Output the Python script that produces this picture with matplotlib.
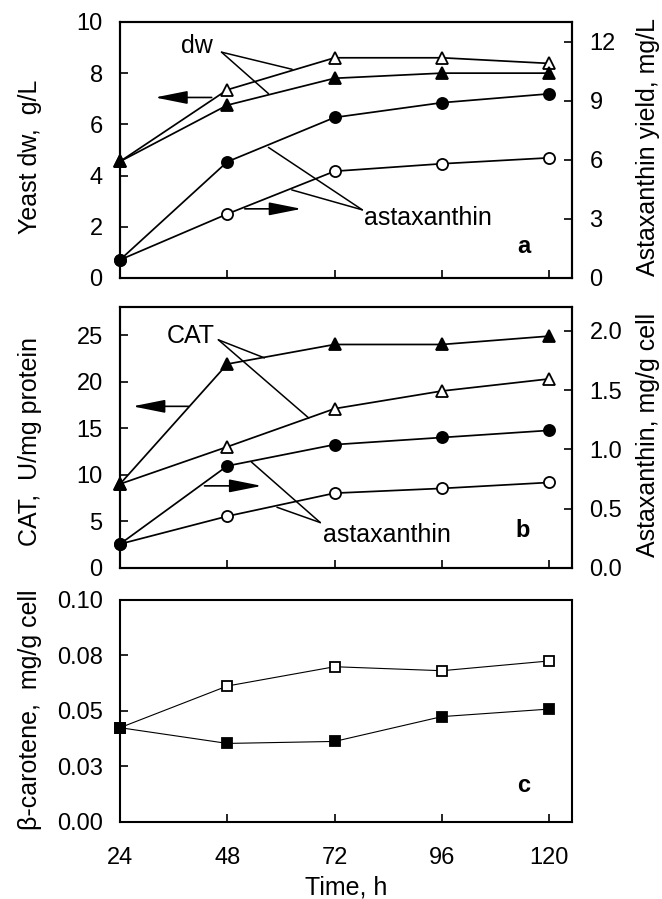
import matplotlib
matplotlib.use("Agg")
import matplotlib.pyplot as plt

plt.rcParams['font.family'] = ['Liberation Sans', 'DejaVu Sans']
plt.rcParams['font.size'] = 17
plt.rcParams['axes.labelsize'] = 18

time_h = [24, 48, 72, 96, 120]

# panel a: yeast dry weight (left) and astaxanthin yield (right)
dw_open = [4.55, 7.35, 8.6, 8.6, 8.38]
dw_filled = [4.55, 6.75, 7.8, 8.0, 8.0]
ast_yield_filled = [0.92, 5.9, 8.15, 8.9, 9.35]
ast_yield_open = [0.92, 3.25, 5.42, 5.8, 6.1]

# panel b: CAT activity (left) and astaxanthin content (right)
cat_filled = [9.0, 21.9, 24.0, 24.0, 24.9]
cat_open = [9.0, 13.0, 17.1, 19.0, 20.3]
ast_cell_filled = [0.2, 0.86, 1.04, 1.10, 1.16]
ast_cell_open = [0.2, 0.435, 0.63, 0.67, 0.72]

# panel c: beta-carotene
bcar_open = [0.0424, 0.0612, 0.0699, 0.0681, 0.0725]
bcar_filled = [0.0424, 0.0353, 0.0362, 0.0474, 0.0508]

c_ticks = [0.0, 0.025, 0.05, 0.075, 0.1]
c_ticklabels = ['0.00', '0.03', '0.05', '0.08', '0.10']

fig = plt.figure(figsize=(6.62, 8.99), dpi=100)
ax_a = fig.add_axes([0.1813, 0.6908, 0.6828, 0.2848])
ax_b = fig.add_axes([0.1813, 0.3685, 0.6828, 0.2897])
ax_c = fig.add_axes([0.1813, 0.0860, 0.6828, 0.2466])
ax_a2 = ax_a.twinx()
ax_b2 = ax_b.twinx()


def style(ax, right=False):
    for s in ax.spines.values():
        s.set_linewidth(1.5)
    ax.tick_params(direction='in', length=5.5, width=1.2, pad=12.5,
                   left=not right, right=right, labelleft=not right,
                   labelright=right)
    ax.tick_params(axis='x', pad=18)
    ax.set_xlim(24, 125.1)
    ax.set_xticks(time_h)


def series(ax, y, marker, filled, lw=1.25, ms=9):
    ax.plot(time_h, y, color='black', lw=lw, marker=marker, ms=ms,
            mfc='black' if filled else 'white', mec='black', mew=1.3,
            clip_on=False, zorder=3 if not filled else 4)


def arrow(ax, tail, head):
    ax.annotate('', xy=head, xytext=tail,
                arrowprops=dict(arrowstyle='-|>,head_length=1.0,head_width=0.2',
                                color='black', lw=1.2, mutation_scale=20,
                                shrinkA=0, shrinkB=0))


def leader(ax, start, end):
    ax.annotate('', xy=end, xytext=start,
                arrowprops=dict(arrowstyle='-', color='black', lw=1.1,
                                shrinkA=0, shrinkB=0))


for ax in (ax_a, ax_b, ax_c):
    style(ax)
style(ax_a2, right=True)
style(ax_b2, right=True)

# ---- panel a
series(ax_a, dw_open, '^', False)
series(ax_a, dw_filled, '^', True)
series(ax_a2, ast_yield_open, 'o', False, ms=8)
series(ax_a2, ast_yield_filled, 'o', True, ms=8)
ax_a.set_ylim(0, 10)
ax_a.set_yticks([0, 2, 4, 6, 8, 10])
ax_a2.set_ylim(0, 13)
ax_a2.set_yticks([0, 3, 6, 9, 12])
ax_a.tick_params(labelbottom=False)
ax_a2.tick_params(labelbottom=False)

ax_a.text(41.3, 8.78, 'dw', ha='center', va='baseline', fontsize=18)
leader(ax_a, (46.7, 8.82), (62.5, 8.15))
leader(ax_a, (46.7, 8.82), (57.2, 7.2))
arrow(ax_a, (44.5, 7.05), (31.8, 7.05))
arrow(ax_a, (51.9, 2.7), (64.6, 2.7))
ax_a.text(78.5, 2.07, 'astaxanthin', ha='left', va='baseline', fontsize=18)
leader(ax_a, (78.2, 2.66), (57.2, 5.1))
leader(ax_a, (78.2, 2.66), (62.4, 3.44))
ax_a.text(114.3, 0.98, 'a', ha='center', va='baseline', fontweight='bold')

ax_a.set_ylabel('Yeast dw,  g/L')
ax_a.yaxis.set_label_coords(-0.199, 0.474)
ax_a2.set_ylabel('Astaxanthin yield, mg/L')
ax_a2.yaxis.set_label_coords(1.168, 0.51)

# ---- panel b
series(ax_b, cat_open, '^', False)
series(ax_b, cat_filled, '^', True)
series(ax_b2, ast_cell_open, 'o', False, ms=8)
series(ax_b2, ast_cell_filled, 'o', True, ms=8)
ax_b.set_ylim(0, 28)
ax_b.set_yticks([0, 5, 10, 15, 20, 25])
ax_b2.set_ylim(0, 2.2)
ax_b2.set_yticks([0.0, 0.5, 1.0, 1.5, 2.0])
ax_b2.set_yticklabels(['0.0', '0.5', '1.0', '1.5', '2.0'])
ax_b.tick_params(labelbottom=False)
ax_b2.tick_params(labelbottom=False)

ax_b.text(39.8, 24.2, 'CAT', ha='center', va='baseline', fontsize=18)
leader(ax_b, (46.0, 24.5), (56.3, 22.56))
leader(ax_b, (46.0, 24.5), (66.2, 16.1))
arrow(ax_b, (39.3, 17.35), (26.8, 17.35))
arrow(ax_b, (42.9, 8.8), (55.7, 8.8))
ax_b.text(69.5, 2.8, 'astaxanthin', ha='left', va='baseline', fontsize=18)
leader(ax_b, (68.8, 4.85), (53.4, 11.36))
leader(ax_b, (68.8, 4.85), (59.1, 6.5))
ax_b.text(114.1, 3.3, 'b', ha='center', va='baseline', fontweight='bold')

ax_b.set_ylabel('CAT,  U/mg protein')
ax_b.yaxis.set_label_coords(-0.199, 0.484)
ax_b2.set_ylabel('Astaxanthin, mg/g cell')
ax_b2.yaxis.set_label_coords(1.168, 0.51)

# ---- panel c
series(ax_c, bcar_open, 's', False, lw=0.8, ms=7)
series(ax_c, bcar_filled, 's', True, lw=0.8, ms=7)
ax_c.set_ylim(0, 0.1)
ax_c.set_yticks(c_ticks)
ax_c.set_yticklabels(c_ticklabels)
ax_c.text(114.3, 0.0135, 'c', ha='center', va='baseline', fontweight='bold')
ax_c.set_ylabel('\u03b2-carotene,  mg/g cell')
ax_c.yaxis.set_label_coords(-0.199, 0.504)
ax_c.set_xlabel('Time, h')
ax_c.xaxis.set_label_coords(0.5, -0.299)

for ax in (ax_a, ax_b, ax_c, ax_a2, ax_b2):
    ax.yaxis.label.set_va('center')
ax_c.xaxis.label.set_va('center')

fig.savefig('out.png', dpi=100)
